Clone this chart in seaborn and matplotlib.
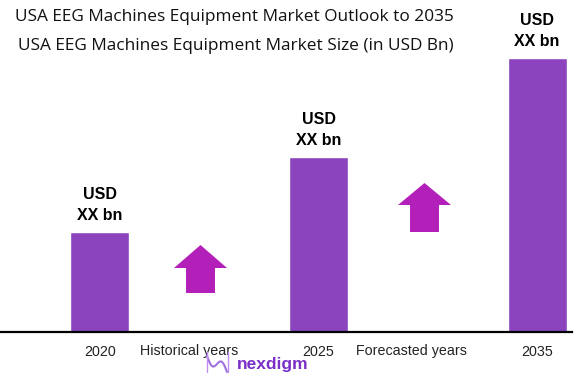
import matplotlib
matplotlib.use("Agg")
import matplotlib.pyplot as plt
import seaborn as sns
import numpy as np
import pandas as pd
from matplotlib.patches import FancyArrow

sns.set_theme(style="white")
plt.rcParams['font.family'] = ['Liberation Sans', 'DejaVu Sans']

categories = ["2020", "Historical years", "2025", "Forecasted years", "2035"]
values = [1.0, np.nan, 1.75, np.nan, 2.74]
title1 = "USA EEG Machines Equipment Market Outlook to 2035"
title2 = "USA EEG Machines Equipment Market Size (in USD Bn)"

df = pd.DataFrame({"cat": categories, "val": values})

fig = plt.figure(figsize=(5.82, 3.89), dpi=100)
ax = fig.add_axes([0, (389 - 332) / 389, 572 / 582, 332 / 389])
sns.barplot(data=df, x="cat", y="val", order=categories, color="#8B44BE",
            saturation=1, width=0.54, ax=ax)
ax.set_ylim(0, 3.32)
ax.set_xlim(-0.915, 4.32)
ax.set_xlabel("")
ax.set_ylabel("")
ax.set_yticks([])
for s in ["top", "right", "left"]:
    ax.spines[s].set_visible(False)
ax.spines["bottom"].set_color("black")
ax.spines["bottom"].set_linewidth(1.6)
ax.tick_params(axis="x", length=0, pad=9)
ax.set_xticks([0, 0.82, 2, 2.85, 4])
ax.set_xticklabels(categories, fontsize=10.3, color="#222222")

for i, v in enumerate(values):
    if not np.isnan(v):
        ax.text(i, v + 0.37, "USD", ha="center", va="center", fontsize=11.5,
                fontweight="bold", color="black")
        ax.text(i, v + 0.16, "XX bn", ha="center", va="center", fontsize=11.5,
                fontweight="bold", color="black")

arrow_color = "#B320B9"
for xc, y0, y1, hb in [(0.92, 0.39, 0.87, 0.64), (2.97, 1.00, 1.49, 1.27)]:
    ax.add_patch(FancyArrow(xc, y0, 0, y1 - y0, width=0.265, head_width=0.485,
                            head_length=y1 - hb, length_includes_head=True,
                            color=arrow_color, lw=0))

fig.text(15 / 582, 1 - 17 / 389, title1, fontsize=12.4, family=["Open Sans", "DejaVu Sans"],
         ha="left", va="center", color="#111111")
fig.text(18 / 582, 1 - 46 / 389, title2, fontsize=12.4, family=["Open Sans", "DejaVu Sans"],
         ha="left", va="center", color="#111111")

# logo
fig.text(237 / 582, 1 - 365 / 389, "nexdigm", fontsize=12.5, fontweight="bold",
         color="#7A2FC9", ha="left", va="center", family=["Liberation Sans", "DejaVu Sans"])
t = np.linspace(0, 1, 50)
lx = (207 + 20 * t) / 582
ly = 1 - (356 + 16 * t + 6 * np.sin(2 * np.pi * t)) / 389
fig.add_artist(plt.Line2D(lx, ly, color="#A070E0", lw=1.5, transform=fig.transFigure))
fig.add_artist(plt.Line2D([207 / 582, 207 / 582], [1 - 352 / 389, 1 - 372 / 389],
                          color="#C090F0", lw=1, transform=fig.transFigure))
fig.add_artist(plt.Line2D([228 / 582, 228 / 582], [1 - 352 / 389, 1 - 372 / 389],
                          color="#C090F0", lw=1, transform=fig.transFigure))

fig.savefig("out.png", dpi=100)
